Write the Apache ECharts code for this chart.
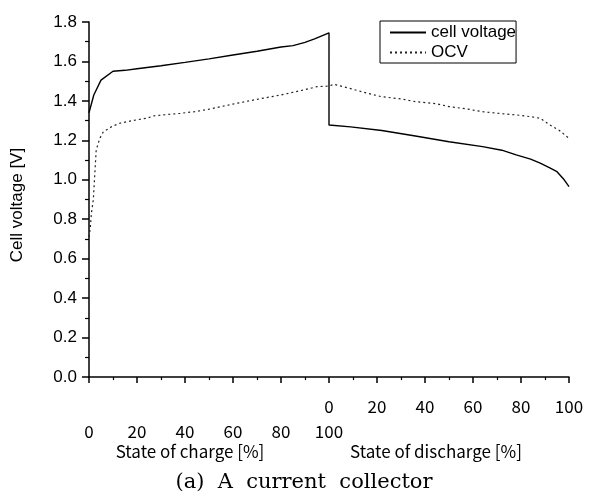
<!DOCTYPE html>
<html>
<head>
<meta charset="utf-8">
<script src="https://cdn.jsdelivr.net/npm/echarts@6/dist/echarts.min.js"></script>
<style>html,body{margin:0;padding:0;background:#fff;}#c{width:592px;height:501px;}</style>
</head>
<body>
<div id="c"></div>
<script>
// Charge phase (State of charge, %)
var chargeCellPct = [0, 2, 5, 10, 15, 20, 30, 40, 50, 60, 70, 80, 85, 90, 94, 100];
var chargeCellV   = [1.34, 1.43, 1.505, 1.55, 1.555, 1.563, 1.578, 1.595, 1.613, 1.633, 1.652, 1.673, 1.68, 1.697, 1.714, 1.745];
var chargeOcvPct  = [0, 0.5, 1, 1.8, 3, 4.5, 6, 10, 13, 18, 24, 27, 32, 38, 44, 50, 60, 70, 80, 90, 95, 100];
var chargeOcvV    = [0.71, 0.75, 0.83, 0.90, 1.15, 1.21, 1.244, 1.273, 1.287, 1.30, 1.312, 1.324, 1.33, 1.337, 1.345, 1.358, 1.384, 1.408, 1.43, 1.457, 1.472, 1.475];
// Discharge phase (State of discharge, %)
var dischargeCellPct = [0, 9, 22, 36, 50, 64, 72, 78, 84, 88, 92, 95, 98, 100];
var dischargeCellV   = [1.278, 1.268, 1.25, 1.222, 1.193, 1.168, 1.15, 1.126, 1.105, 1.084, 1.06, 1.041, 1.0, 0.965];
var dischargeOcvPct  = [0, 2, 9, 16, 22, 30, 36, 45, 50, 57, 64, 72, 78, 84, 88, 92, 96, 100];
var dischargeOcvV    = [1.484, 1.484, 1.462, 1.439, 1.421, 1.41, 1.396, 1.385, 1.371, 1.36, 1.345, 1.335, 1.329, 1.32, 1.312, 1.278, 1.25, 1.21];
// Texts
var seriesNames = ['cell voltage', 'OCV'];
var chargeTitle = 'State of charge [%]';
var dischargeTitle = 'State of discharge [%]';
var yTitle = 'Cell voltage [V]';
var caption = '(a)  A  current  collector';

function build(cp, cv, dp, dv) {
  var out = [];
  for (var i = 0; i < cp.length; i++) out.push([cp[i], cv[i]]);
  for (var j = 0; j < dp.length; j++) out.push([100 + dp[j], dv[j]]);
  return out;
}

var chart = echarts.init(document.getElementById('c'), null, {renderer: 'canvas'});
var labelFont = 'Noto Sans CJK KR';
chart.setOption({
  animation: false,
  backgroundColor: '#fff',
  grid: {left: 89, right: 23, top: 22, bottom: 124, containLabel: false},
  legend: {
    data: seriesNames,
    orient: 'vertical',
    left: 380, top: 21,
    borderColor: '#000', borderWidth: 1, borderRadius: 0,
    padding: [3, 0, 2, 9],
    itemWidth: 36, itemHeight: 14, itemGap: 3,
    itemStyle: {opacity: 0},
    textStyle: {fontFamily: 'Liberation Sans', fontSize: 17, color: '#000'}
  },
  xAxis: {
    type: 'value', min: 0, max: 200, interval: 20,
    axisLine: {lineStyle: {color: '#000', width: 1.5}},
    axisTick: {show: true, length: 6, lineStyle: {color: '#000', width: 1.5}},
    minorTick: {show: true, splitNumber: 2, length: 3, lineStyle: {color: '#000', width: 1.2}},
    splitLine: {show: false},
    axisLabel: {
      showMinLabel: true, showMaxLabel: true,
      margin: 17, lineHeight: 25,
      fontFamily: labelFont, fontSize: 17, color: '#000',
      formatter: function (v) {
        if (v < 100) return '\n' + v;
        if (v === 100) return '0\n100';
        return String(v - 100);
      }
    }
  },
  yAxis: {
    type: 'value', min: 0, max: 1.8, interval: 0.2,
    axisLine: {show: true, lineStyle: {color: '#000', width: 1.5}},
    axisTick: {show: true, length: 7, lineStyle: {color: '#000', width: 1.5}},
    minorTick: {show: true, splitNumber: 2, length: 4, lineStyle: {color: '#000', width: 1.2}},
    splitLine: {show: false},
    axisLabel: {
      margin: 12, fontFamily: 'Liberation Sans', fontSize: 17, color: '#000',
      formatter: function (v) { return v.toFixed(1); }
    }
  },
  graphic: [
    {type: 'text', x: 17, y: 205, rotation: Math.PI / 2,
     style: {text: yTitle, fontFamily: 'Liberation Sans', fontSize: 17, fill: '#000', align: 'center', verticalAlign: 'middle'}},
    {type: 'text', x: 190, y: 452,
     style: {text: chargeTitle, fontFamily: labelFont, fontSize: 17, fill: '#000', align: 'center', verticalAlign: 'middle'}},
    {type: 'text', x: 436, y: 452,
     style: {text: dischargeTitle, fontFamily: labelFont, fontSize: 17, fill: '#000', align: 'center', verticalAlign: 'middle'}},
    {type: 'text', x: 304, y: 483,
     style: {text: caption, fontFamily: 'DejaVu Serif', fontSize: 21, fill: '#000', align: 'center', verticalAlign: 'middle'}}
  ],
  series: [
    {name: seriesNames[0], type: 'line', symbol: 'none', smooth: false,
     lineStyle: {color: '#000', width: 1.4, type: 'solid'},
     itemStyle: {color: '#000'},
     data: build(chargeCellPct, chargeCellV, dischargeCellPct, dischargeCellV)},
    {name: seriesNames[1], type: 'line', symbol: 'none', smooth: false,
     lineStyle: {color: '#222', width: 1.2, type: [2, 3]},
     itemStyle: {color: '#222'},
     data: build(chargeOcvPct, chargeOcvV, dischargeOcvPct, dischargeOcvV)}
  ]
});
</script>
</body>
</html>
